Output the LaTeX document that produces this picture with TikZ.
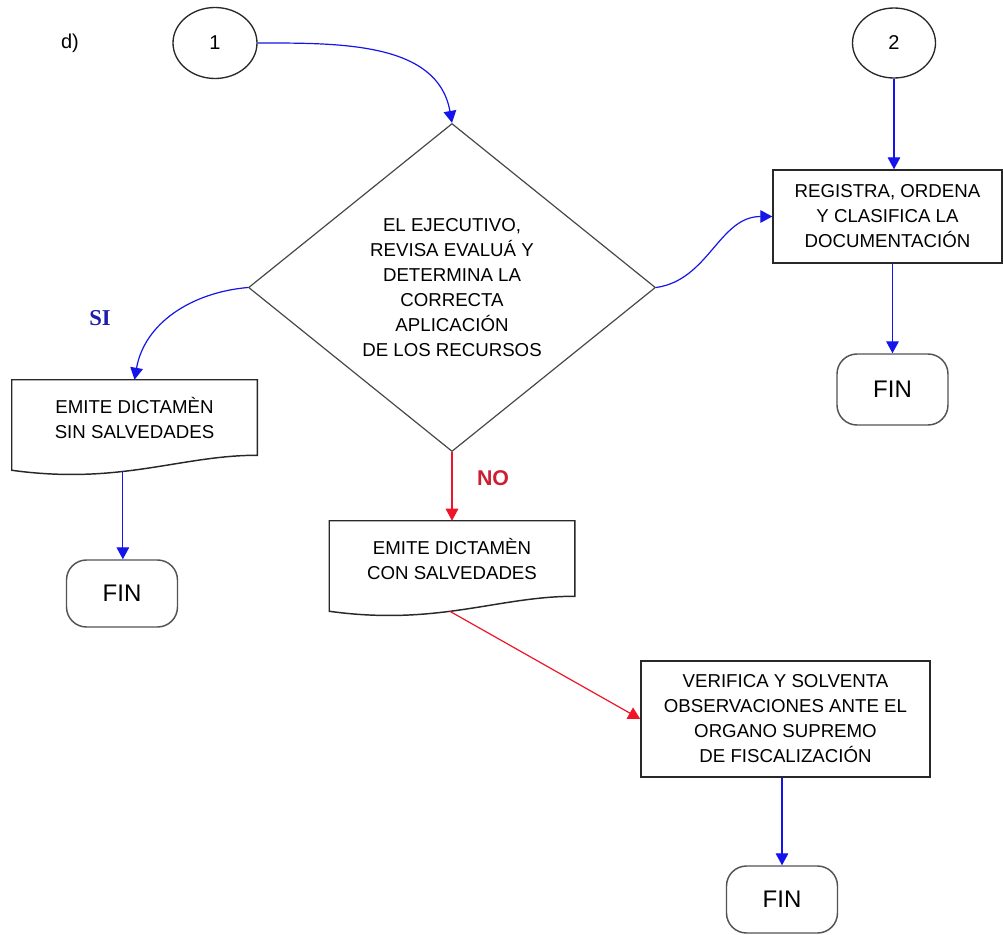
\documentclass[tikz,border=0pt]{standalone}
\usepackage{fontspec}
\setmainfont{Liberation Sans}
\newfontfamily\siserif{Liberation Serif}
\usetikzlibrary{arrows.meta}
\usetikzlibrary{shapes.geometric}
\usetikzlibrary{calc}

\definecolor{flowblue}{RGB}{20,20,235}
\definecolor{flowred}{RGB}{240,20,40}
\definecolor{siblue}{RGB}{30,30,170}
\definecolor{nored}{RGB}{205,30,50}
\definecolor{edgegray}{RGB}{40,40,40}

\tikzset{
  flowtext/.style={font=\fontsize{14}{18.75}\selectfont, align=center},
  conector/.style={ellipse, draw=edgegray, line width=1pt, inner sep=0pt, font=\fontsize{15}{15}\selectfont},
  proceso/.style={rectangle, draw=edgegray, line width=1.1pt, flowtext, inner sep=0pt},
  decision/.style={diamond, draw=edgegray!85, line width=0.9pt, flowtext, inner sep=0pt, shape aspect=1.24},
  documento/.style={rectangle, flowtext, inner sep=0pt, minimum width=183.75pt, minimum height=56.25pt},
  terminal/.style={rectangle, rounded corners=15pt, draw=edgegray!80, line width=1.1pt, font=\fontsize{18}{18}\selectfont, minimum width=83.25pt, minimum height=50.25pt},
  flecha/.style={draw=flowblue, line width=0.9pt, -{Triangle[length=9pt,width=9.5pt]}},
  flecharoja/.style={flecha, draw=flowred}
}

% outline of a document shape: #1 node, #2 exit point, #3 its position on the wave
\newcommand{\hojadoc}[3]{%
  \draw[edgegray, line width=1.1pt] (#1.north west) -- (#1.north east) -- (#1.south east)
    .. controls ($(#1.south east)+(-77,0)$) and ($(#1.south east)+(-137,30)$) .. ($(#1.south west)+(0,15)$)
    coordinate[pos=#3] (#2) -- cycle;}

\begin{document}
\begin{tikzpicture}[x=0.75pt,y=0.75pt,yscale=-1,xscale=1]
\useasboundingbox (0,0) rectangle (1003,935);

%Shape: Connectors
\node[conector, minimum width=63pt, minimum height=53.25pt] (c1) at (215,43) {1};
\node[conector, minimum width=62.25pt, minimum height=52.5pt] (c2) at (894,43) {2};
% Text Node
\node[font=\fontsize{15}{15}\selectfont] (inciso) at (70,43) {d)};

%Shape: Diamond
\node[decision, minimum width=305.25pt, minimum height=246pt] (dec) at (452,287.5)
  {EL EJECUTIVO,\\REVISA EVALUÁ Y\\DETERMINA LA\\CORRECTA\\APLICACIÓN\\DE LOS RECURSOS};

%Shape: Processes
\node[proceso, minimum width=171.75pt, minimum height=69.75pt] (reg) at (887.5,216.5)
  {REGISTRA, ORDENA\\Y CLASIFICA LA\\DOCUMENTACIÓN};
\node[proceso, minimum width=216.75pt, minimum height=87pt] (ver) at (785.5,719)
  {VERIFICA Y SOLVENTA\\OBSERVACIONES ANTE EL\\ORGANO SUPREMO\\DE FISCALIZACIÓN};

%Shape: Documents
\node[documento] (doc1) at (134.5,417.5) {EMITE DICTAMÈN\\SIN SALVEDADES};
\hojadoc{doc1}{d1out}{0.6}
\node[documento] (doc2) at (452,558.5) {EMITE DICTAMÈN\\CON SALVEDADES};
\hojadoc{doc2}{d2out}{0.56}

%Shape: Terminals
\node[terminal] (fin1) at (122,593.5) {FIN};
\node[terminal, minimum height=53.25pt] (fin2) at (892.5,389.5) {FIN};
\node[terminal] (fin3) at (782,899.5) {FIN};

%Curve Lines (y axis is flipped, so angles are mirrored)
\draw[flecha] (c1.east) to[out=0,in=-100] (dec.north);
\draw[flecha] (dec.east) to[out=-8,in=180] (reg.west);
\draw[flecha] (dec.west) to[out=175,in=-80] (doc1.north);
%Straight Lines
\draw[flecha] (c2.south) -- (c2.south |- reg.north);
\draw[flecha] (reg.south -| fin2.north) -- (fin2.north);
\draw[flecha] (d1out) -- (d1out |- fin1.north);
\draw[flecharoja] (dec.south) -- (doc2.north);
\draw[flecharoja] (d2out) -- (ver.west);
\draw[flecha] (ver.south -| fin3.north) -- (fin3.north);

% Text Node
\node[font=\siserif\bfseries\fontsize{17}{17}\selectfont, text=siblue] (si) at (100,318) {SI};
\node[font=\bfseries\fontsize{16}{16}\selectfont, text=nored] (no) at (493,478) {NO};
\end{tikzpicture}
\end{document}
